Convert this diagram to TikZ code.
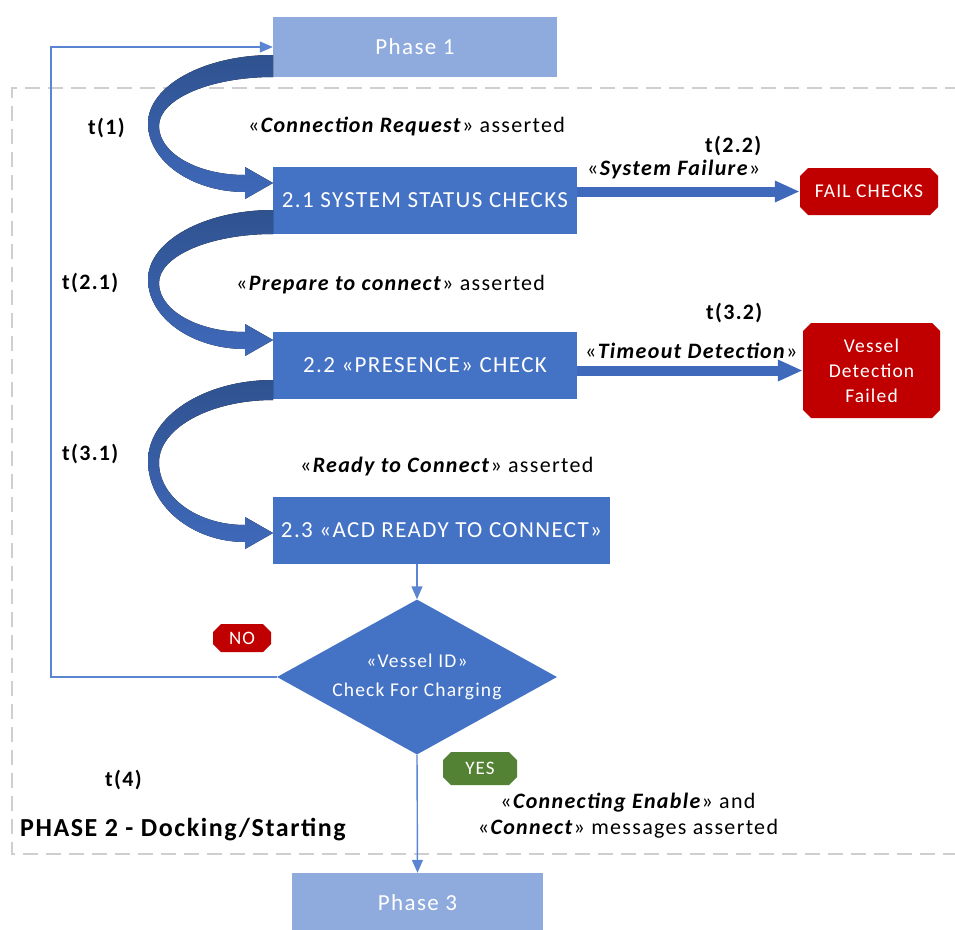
\documentclass[tikz,border=0pt]{standalone}
\usepackage{fontspec}
\setmainfont{Carlito}[LetterSpace=6]
\usetikzlibrary{arrows.meta,shapes.geometric,calc}

\definecolor{boxblue}{HTML}{4472C4}
\definecolor{phaseblue}{HTML}{8FAADC}
\definecolor{darkblue}{HTML}{2F528F}
\definecolor{arrowblue}{HTML}{3F69BA}
\definecolor{failred}{HTML}{C00000}
\definecolor{okgreen}{HTML}{548235}
\definecolor{dashgray}{HTML}{CFCFCF}
\definecolor{linkblue}{HTML}{5B84D2}

\tikzset{
  octagon/.style={inner sep=0pt, text=white,
    path picture={\fill[#1]
      ([xshift=\cham]path picture bounding box.north west) --
      ([xshift=-\cham]path picture bounding box.north east) --
      ([yshift=-\cham]path picture bounding box.north east) --
      ([yshift=\cham]path picture bounding box.south east) --
      ([xshift=-\cham]path picture bounding box.south east) --
      ([xshift=\cham]path picture bounding box.south west) --
      ([yshift=\cham]path picture bounding box.south west) --
      ([yshift=-\cham]path picture bounding box.north west) -- cycle;}},
  phasebox/.style={fill=phaseblue, text=white, inner sep=0pt,
    minimum height=60pt, font=\fontsize{23}{27}\selectfont},
  stepbox/.style={fill=boxblue, text=white, inner sep=0pt,
    minimum height=67pt, font=\fontsize{23}{27}\selectfont},
  tlabel/.style={anchor=west, inner sep=0pt, font=\bfseries\fontsize{22}{26}\selectfont},
  msg/.style={anchor=west, inner sep=0pt, font=\fontsize{22}{26}\selectfont},
  link/.style={draw=linkblue, line width=1.4pt,
    -{Triangle[width=11pt,length=13pt]}},
  blockarrow/.style={draw=arrowblue, line width=10pt,
    -{Triangle[width=20pt,length=25pt]}},
  bendshade/.style={top color=darkblue, bottom color=arrowblue},
}
\newcommand{\cham}{8pt}

% curved block arrow leaving a box's left edge and entering the next one
% #1 lower edge of the tail, #2 tail width, #3 height of the tip
\newcommand{\bendarr}[3]{%
  \pgfmathsetmacro\bA{#1-#2}%
  \pgfmathsetmacro\bB{#3+9}%
  \pgfmathsetmacro\bM{(\bA+\bB)/2}%
  \pgfmathsetmacro\bMa{\bM-0.55*(\bM-\bA)}%
  \pgfmathsetmacro\bMb{\bM+0.55*(\bB-\bM)}%
  \pgfmathsetmacro\bC{#3-8}%
  \pgfmathsetmacro\bN{(#1+\bC)/2}%
  \pgfmathsetmacro\bNa{\bN+0.55*(\bC-\bN)}%
  \pgfmathsetmacro\bNb{\bN-0.55*(\bN-#1)}%
  \pgfmathsetmacro\hU{#3-16}%
  \pgfmathsetmacro\hD{#3+16}%
  \fill[bendshade] (273,\bA) .. controls (204,\bA) and (148,\bMa) .. (148,\bM)
    .. controls (148,\bMb) and (192,\bB) .. (245,\bB)
    -- (245,\hD) -- (273,#3) -- (245,\hU) -- (245,\bC)
    .. controls (197,\bC) and (159,\bNa) .. (159,\bN)
    .. controls (159,\bNb) and (210,#1) .. (273,#1) -- cycle;}

\begin{document}
\begin{tikzpicture}[x=1pt,y=-1pt]
\useasboundingbox (0,0) rectangle (955,929);

% phase 2 frame
\draw[dashgray, line width=1.5pt, dash pattern=on 15pt off 8pt]
  (960,88) -- (12,88) -- (12,854) -- (960,854);

% boxes
\node[phasebox, minimum width=284pt] (p1) at (415,47) {Phase 1};
\node[stepbox, minimum width=304pt] (s21) at (425,200.5) {2.1 SYSTEM STATUS CHECKS};
\node[stepbox, minimum width=304pt] (s22) at (425,365.5) {2.2 «PRESENCE» CHECK};
\node[stepbox, minimum width=337pt] (s23) at (441.5,530.5) {2.3 «ACD READY TO CONNECT»};
\node[diamond, fill=boxblue, text=white, inner sep=0pt, aspect=1.8,
  minimum width=280pt, minimum height=155pt, align=center,
  font=\fontsize{19.5}{29}\selectfont] (dia) at (417,677)
  {«Vessel ID»\\Check For Charging};
\node[phasebox, minimum width=251pt] (p3) at (417.5,903) {Phase 3};

% failure states
\node[octagon=failred, minimum width=138pt, minimum height=47pt,
  font=\fontsize{19.5}{24}\selectfont] (f1) at (869,191.5) {FAIL CHECKS};
\node[octagon=failred, minimum width=137pt, minimum height=95pt, align=center,
  font=\fontsize{19.5}{25}\selectfont] (f2) at (871.5,370.5)
  {Vessel\\Detection\\Failed};

% decision badges
\node[octagon=failred, minimum width=58pt, minimum height=28pt,
  font=\fontsize{19}{22}\selectfont] (no) at (242,638) {NO};
\node[octagon=okgreen, minimum width=74pt, minimum height=33pt,
  font=\fontsize{19}{22}\selectfont] (yes) at (480,768.5) {YES};

% curved transitions
\bendarr{77}{22}{183}
\bendarr{234}{24}{340}
\bendarr{400}{20}{533}

% failure transitions
\draw[blockarrow] (s21.east |- f1.west) -- (f1.west);
\draw[blockarrow] (s22.east |- f2.west) -- (f2.west);

% thin connectors
\coordinate (loopx) at (51,0);
\draw[link] (s23.south -| dia.north) -- (dia.north);
\draw[link] (dia.south) -- (p3.north);
\draw[link] (dia.west) -- (dia.west -| loopx) |- (p1.west);

% transition labels
\node[tlabel] (t1) at (88,128) {t(1)};
\node[tlabel] (t21) at (62,283) {t(2.1)};
\node[tlabel] (t31) at (62,454) {t(3.1)};
\node[tlabel] (t22) at (705,146) {t(2.2)};
\node[tlabel] (t32) at (706,313) {t(3.2)};
\node[tlabel] (t4) at (105,780) {t(4)};

% message labels
\node[msg] (m1) at (248,127) {«\textbf{\textit{Connection Request}}» asserted};
\node[msg] (m2) at (236,285) {«\textbf{\textit{Prepare to connect}}» asserted};
\node[msg] (m3) at (300,467) {«\textbf{\textit{Ready to Connect}}» asserted};
\node[msg] (m4) at (587,170) {«\textbf{\textit{System Failure}}»};
\node[msg] (m5) at (585,351) {«\textbf{\textit{Timeout Detection}}»};
\node[msg, anchor=center, align=center] (m6) at (628,816)
  {«\textbf{\textit{Connecting Enable}}» and\\«\textbf{\textit{Connect}}» messages asserted};

\node[font=\bfseries\fontsize{26}{30}\selectfont, anchor=west, inner sep=0pt] (ph2) at (20,830)
  {PHASE 2 - Docking/Starting};
\end{tikzpicture}
\end{document}
